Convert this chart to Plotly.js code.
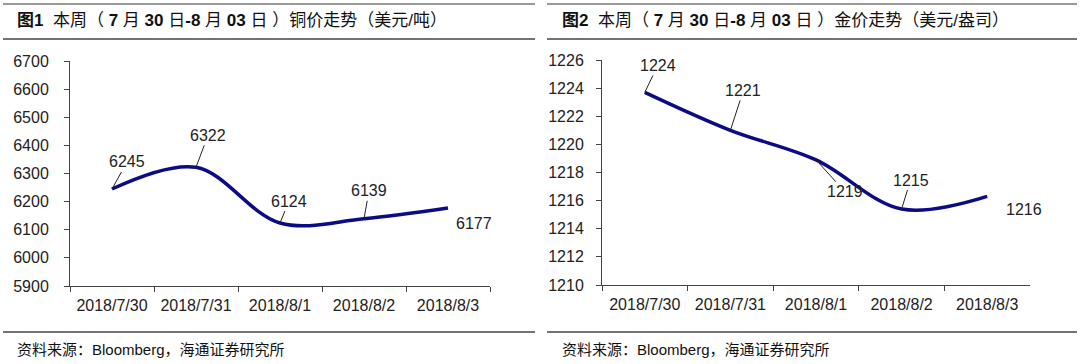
<!DOCTYPE html>
<html>
<head>
<meta charset="utf-8">
<script src="https://cdn.plot.ly/plotly-3.0.1.min.js"></script>
<style>html,body{margin:0;padding:0;background:#fff;}#chart{width:1080px;height:364px;}</style>
</head>
<body>
<div id="chart"></div>
<script>
const dates = ["2018/7/30", "2018/7/31", "2018/8/1", "2018/8/2", "2018/8/3"];
const copperPrices = [6245, 6322, 6124, 6139, 6177];
const goldPrices = [1223.7, 1221.0, 1218.9, 1215.4, 1216.3];
const copperTicks = [5900, 6000, 6100, 6200, 6300, 6400, 6500, 6600, 6700];
const goldTicks = [1210, 1212, 1214, 1216, 1218, 1220, 1222, 1224, 1226];

const W = 1080, H = 364;
const px = v => v / W;
const py = v => 1 - v / H;

const lineColor = '#0b0b85';
const tickFont = {family: 'Liberation Sans, Arial, sans-serif', size: 16, color: '#222'};
const labelFont = {family: 'Liberation Sans, Arial, sans-serif', size: 16, color: '#222'};

const traces = [
  {x: dates, y: copperPrices, xaxis: 'x', yaxis: 'y', type: 'scatter', mode: 'lines',
   line: {color: lineColor, width: 3.5, shape: 'spline', smoothing: 1}, hoverinfo: 'none'},
  {x: dates, y: goldPrices, xaxis: 'x2', yaxis: 'y2', type: 'scatter', mode: 'lines',
   line: {color: lineColor, width: 3.5, shape: 'spline', smoothing: 1}, hoverinfo: 'none'}
];

function xax(domain, anchor) {
  return {domain: domain, anchor: anchor, type: 'category', range: [-0.5, 4.5],
    tickson: 'boundaries', ticks: 'outside', ticklen: 5, tickcolor: '#444', tickwidth: 1,
    showline: true, linecolor: '#444', linewidth: 1, showgrid: false, zeroline: false,
    tickfont: tickFont, ticklabelstandoff: 5, fixedrange: true};
}
function yax(domain, anchor, ticks, standoff) {
  return {domain: domain, anchor: anchor, range: [ticks[0], ticks[ticks.length - 1]],
    tickvals: ticks, ticktext: ticks.map(String), ticks: 'outside', ticklen: 5,
    tickcolor: '#444', tickwidth: 1, showline: true, linecolor: '#444', linewidth: 1,
    showgrid: false, zeroline: false, tickfont: tickFont, ticklabelstandoff: standoff,
    fixedrange: true};
}

// label offsets (pixels) for each data label
const copperOffsets = [[15, -27, true], [12, -32, true], [9, -22, true], [5, -28, true], [26, 15, false]];
const goldOffsets = [[13, -27, true], [13, -40, true], [29, 32, true], [9, -29, true], [37, 13, false]];

const annotations = [];
function addLabels(vals, offs, xr, yr) {
  vals.forEach((v, i) => {
    const o = offs[i];
    const a = {x: dates[i], y: v, xref: xr, yref: yr, text: String(Math.round(v)),
      font: labelFont};
    if (o[2]) {
      Object.assign(a, {showarrow: true, arrowhead: 0, arrowwidth: 1, arrowcolor: '#222',
        ax: o[0], ay: o[1], standoff: 0});
    } else {
      Object.assign(a, {showarrow: false, xshift: o[0], yshift: -o[1]});
    }
    annotations.push(a);
  });
}
addLabels(copperPrices, copperOffsets, 'x', 'y');
addLabels(goldPrices, goldOffsets, 'x2', 'y2');

const titleFont = {family: 'Liberation Sans, Noto Sans CJK SC, sans-serif', size: 17, color: '#111'};
const sp = '&nbsp;';
function titleText(n, name) {
  return '<b>图' + n + '</b>' + sp + sp + '本周（' + sp + '<b>7</b>' + sp + '月' + sp + '<b>30</b>' + sp +
    '日<b>-8</b>' + sp + '月' + sp + '<b>03</b>' + sp + '日' + sp + '）' + name;
}
annotations.push({xref: 'paper', yref: 'paper', x: px(15), y: py(20), xanchor: 'left', yanchor: 'middle',
  showarrow: false, font: titleFont, text: titleText(1, '铜价走势（美元/吨）')});
annotations.push({xref: 'paper', yref: 'paper', x: px(560), y: py(20), xanchor: 'left', yanchor: 'middle',
  showarrow: false, font: titleFont, text: titleText(2, '金价走势（美元/盎司）')});
const srcFont = {family: 'Liberation Sans, Noto Sans CJK SC, sans-serif', size: 15, color: '#111'};
annotations.push({xref: 'paper', yref: 'paper', x: px(15), y: py(349), xanchor: 'left', yanchor: 'middle',
  showarrow: false, font: srcFont, text: '资料来源：Bloomberg，海通证券研究所'});
annotations.push({xref: 'paper', yref: 'paper', x: px(560), y: py(349), xanchor: 'left', yanchor: 'middle',
  showarrow: false, font: srcFont, text: '资料来源：Bloomberg，海通证券研究所'});

function rule(x0, x1, y, color, w) {
  return {type: 'line', xref: 'paper', yref: 'paper', x0: px(x0), x1: px(x1), y0: py(y), y1: py(y),
    line: {color: color, width: w}};
}
const shapes = [
  rule(3, 535, 4, '#999', 2), rule(3, 535, 39, '#444', 1.5), rule(3, 535, 332, '#444', 1.5),
  rule(547, 1077, 4, '#999', 2), rule(547, 1077, 39, '#444', 1.5), rule(547, 1077, 332, '#444', 1.5)
];

const layout = {
  width: W, height: H, margin: {l: 0, r: 0, t: 0, b: 0},
  paper_bgcolor: '#fff', plot_bgcolor: '#fff', showlegend: false,
  xaxis: xax([px(70), px(490)], 'y'),
  yaxis: yax([py(286), py(61)], 'x', copperTicks, 12),
  xaxis2: xax([px(602), px(1030)], 'y2'),
  yaxis2: yax([py(285), py(60)], 'x2', goldTicks, 9),
  annotations: annotations, shapes: shapes
};

Plotly.newPlot('chart', traces, layout, {displayModeBar: false, staticPlot: true});
</script>
</body>
</html>
